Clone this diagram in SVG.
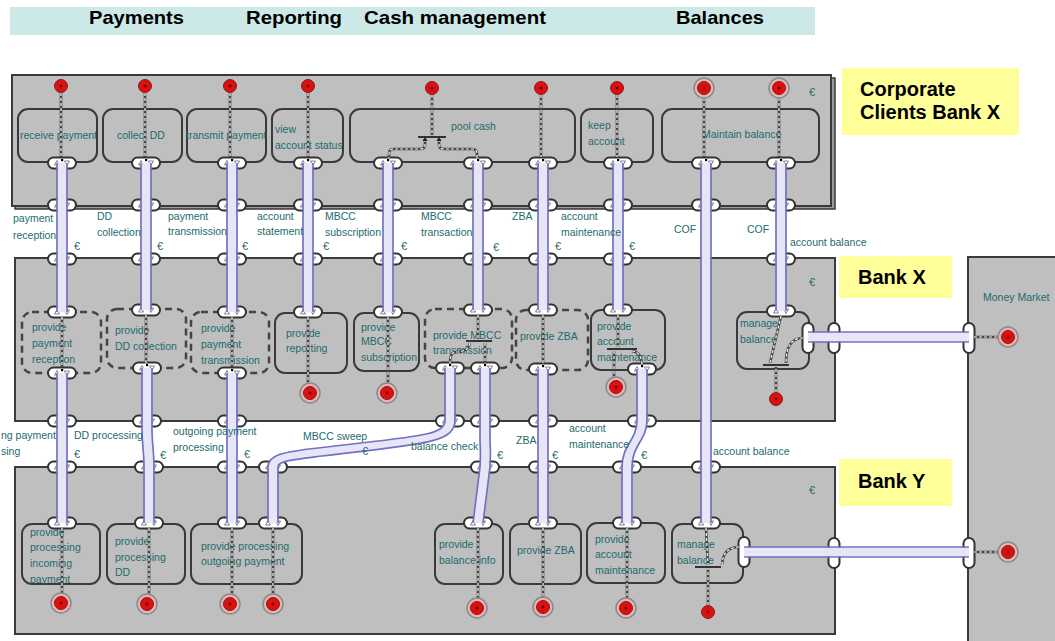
<svg xmlns="http://www.w3.org/2000/svg" width="1055" height="641" viewBox="0 0 1055 641">
<style>
.panel{fill:#bfbfbf;stroke:#3a3a3a;stroke-width:2}
.node{fill:#bfbfbf;stroke:#3a3a3a;stroke-width:2}
.dnode{fill:#bfbfbf;stroke:#444;stroke-width:2.5;stroke-dasharray:7 5}
.t{font-family:"Liberation Sans",Arial,sans-serif;font-size:10.5px;fill:#1d6b6d}
.e{font-family:"Liberation Sans",Arial,sans-serif;font-size:11px;fill:#1d6b6d}
.hd{font-family:"Liberation Sans",Arial,sans-serif;font-weight:bold;font-size:19px;fill:#000}
.bt{font-family:"Liberation Sans",Arial,sans-serif;font-weight:bold;font-size:20px;fill:#000}
.yl{fill:#ffff99}
.band{stroke:#e6e6f6;stroke-width:9;fill:none}
.ln{stroke:#7272c2;stroke-width:1.7;fill:none}
.dk{stroke:#444;stroke-width:2.6;fill:none}
.dw{stroke:#f4f4f4;stroke-width:1.2;stroke-dasharray:3 2;fill:none}
.bar{stroke:#333;stroke-width:2;fill:none}
</style>
<defs>
<g id="p">
<rect x="-14" y="-5.5" width="28" height="11" rx="5.5" fill="#fff" stroke="#333" stroke-width="2"/>
<path d="M-5,-2.5 L-7.5,2 L-2.5,2 Z" fill="#fff" stroke="#666" stroke-width="0.8"/>
<path d="M2.5,-2 L7.5,-2 L5,2.5 Z" fill="#fff" stroke="#666" stroke-width="0.8"/>
<rect x="-1" y="-4" width="2.2" height="2.2" fill="#000"/>
</g>
<g id="vp">
<rect x="-5.5" y="-15" width="11" height="30" rx="5.5" fill="#fff" stroke="#333" stroke-width="2"/>
</g>
<g id="r">
<circle r="6.5" fill="#dd1010" stroke="#8a1a1a" stroke-width="1"/>
<circle r="1.5" fill="#600"/>
</g>
<g id="rh">
<circle r="10" fill="#e6b4b4" stroke="#8a8a8a" stroke-width="1.5"/>
<circle r="6.5" fill="#dd1010" stroke="#8a1a1a" stroke-width="1"/>
<circle r="1.5" fill="#600"/>
</g>
</defs>

<rect width="1055" height="641" fill="#fff"/>

<g id="header">
<rect x="10" y="7" width="805" height="28" fill="#cce8e7"/>
<text class="hd" x="89" y="24" textLength="95" lengthAdjust="spacingAndGlyphs">Payments</text>
<text class="hd" x="246" y="24" textLength="96" lengthAdjust="spacingAndGlyphs">Reporting</text>
<text class="hd" x="364" y="24" textLength="182" lengthAdjust="spacingAndGlyphs">Cash management</text>
<text class="hd" x="676" y="24" textLength="88" lengthAdjust="spacingAndGlyphs">Balances</text>
</g>

<g id="panels">
<rect x="15" y="78" width="820" height="131" fill="#9a9a9a" stroke="#3a3a3a" stroke-width="1.5"/>
<rect class="panel" x="12" y="75" width="819" height="131"/>
<rect class="panel" x="15" y="258" width="820" height="163"/>
<rect class="panel" x="15" y="467" width="820" height="167"/>
<rect class="panel" x="968" y="257" width="92" height="390"/>
<text class="e" x="812" y="96" text-anchor="middle">€</text>
<text class="e" x="812" y="286" text-anchor="middle">€</text>
<text class="e" x="812" y="494" text-anchor="middle">€</text>
<text class="t" x="983" y="301">Money Market</text>
</g>

<g id="labels-yellow">
<rect class="yl" x="842" y="68" width="177" height="67"/>
<text class="bt" x="860" y="96">Corporate</text>
<text class="bt" x="860" y="119">Clients Bank X</text>
<rect class="yl" x="839" y="256" width="113" height="42"/>
<text class="bt" x="858" y="284">Bank X</text>
<rect class="yl" x="839" y="459" width="113" height="47"/>
<text class="bt" x="858" y="488">Bank Y</text>
</g>

<!-- top panel nodes -->
<g id="n-receive-payment"><rect class="node" x="18" y="109" width="79" height="53" rx="10"/><text class="t" x="20" y="139">receive payment</text></g>
<g id="n-collect-dd"><rect class="node" x="103" y="109" width="79" height="53" rx="10"/><text class="t" x="117" y="139">collect DD</text></g>
<g id="n-transmit-payment"><rect class="node" x="187" y="109" width="79" height="53" rx="10"/><text class="t" x="186" y="139">transmit payment</text></g>
<g id="n-view-account-status"><rect class="node" x="272" y="109" width="71" height="53" rx="10"/><text class="t" x="275" y="133">view</text><text class="t" x="275" y="149">account status</text></g>
<g id="n-pool-cash"><rect class="node" x="350" y="109" width="225" height="53" rx="10"/><text class="t" x="451" y="130">pool cash</text></g>
<g id="n-keep-account"><rect class="node" x="581" y="109" width="72" height="53" rx="10"/><text class="t" x="588" y="129">keep</text><text class="t" x="588" y="145">account</text></g>
<g id="n-maintain-balance"><rect class="node" x="662" y="109" width="157" height="53" rx="10"/><text class="t" x="702" y="138">Maintain balance</text></g>

<!-- Bank X nodes -->
<g id="n-provide-payment-reception"><rect class="dnode" x="22" y="312" width="79" height="61" rx="10"/><text class="t" x="32" y="331">provide</text><text class="t" x="32" y="347">payment</text><text class="t" x="32" y="363">reception</text></g>
<g id="n-provide-dd-collection"><rect class="dnode" x="107" y="309" width="79" height="59" rx="10"/><text class="t" x="115" y="334">provide</text><text class="t" x="115" y="350">DD collection</text></g>
<g id="n-provide-payment-transmission"><rect class="dnode" x="191" y="312" width="78" height="61" rx="10"/><text class="t" x="201" y="332">provide</text><text class="t" x="201" y="348">payment</text><text class="t" x="201" y="364">transmission</text></g>
<g id="n-provide-reporting"><rect class="node" x="275" y="313" width="72" height="60" rx="10"/><text class="t" x="286" y="337">provide</text><text class="t" x="286" y="352">reporting</text></g>
<g id="n-provide-mbcc-subscription"><rect class="node" x="354" y="313" width="65" height="58" rx="10"/><text class="t" x="361" y="331">provide</text><text class="t" x="361" y="345">MBCC</text><text class="t" x="361" y="361">subscription</text></g>
<g id="n-provide-mbcc-transmission"><rect class="dnode" x="425" y="309" width="87" height="59" rx="10"/><text class="t" x="433" y="339">provide MBCC</text><text class="t" x="433" y="354">transmission</text></g>
<g id="n-provide-zba-x"><rect class="dnode" x="516" y="310" width="72" height="60" rx="10"/><text class="t" x="520" y="340">provide ZBA</text></g>
<g id="n-provide-account-maintenance-x"><rect class="node" x="591" y="310" width="74" height="60" rx="10"/><text class="t" x="597" y="330">provide</text><text class="t" x="597" y="345">account</text><text class="t" x="597" y="361">maintenance</text></g>
<g id="n-manage-balance-x"><rect class="node" x="737" y="312" width="72" height="57" rx="10"/><text class="t" x="740" y="327">manage</text><text class="t" x="740" y="343">balance</text></g>

<!-- Bank Y nodes -->
<g id="n-provide-processing-incoming"><rect class="node" x="22" y="524" width="78" height="60" rx="10"/><text class="t" x="30" y="536">provide</text><text class="t" x="30" y="551">processing</text><text class="t" x="30" y="567">incoming</text><text class="t" x="30" y="583">payment</text></g>
<g id="n-provide-processing-dd"><rect class="node" x="107" y="524" width="78" height="60" rx="10"/><text class="t" x="115" y="545">provide</text><text class="t" x="115" y="561">processing</text><text class="t" x="115" y="576">DD</text></g>
<g id="n-provide-processing-outgoing"><rect class="node" x="191" y="524" width="111" height="60" rx="10"/><text class="t" x="201" y="550">provide processing</text><text class="t" x="201" y="565">outgoing payment</text></g>
<g id="n-provide-balance-info"><rect class="node" x="435" y="524" width="68" height="60" rx="10"/><text class="t" x="439" y="548">provide</text><text class="t" x="439" y="564">balance info</text></g>
<g id="n-provide-zba-y"><rect class="node" x="510" y="524" width="71" height="60" rx="10"/><text class="t" x="517" y="554">provide ZBA</text></g>
<g id="n-provide-account-maintenance-y"><rect class="node" x="587" y="523" width="78" height="60" rx="10"/><text class="t" x="595" y="543">provide</text><text class="t" x="595" y="558">account</text><text class="t" x="595" y="574">maintenance</text></g>
<g id="n-manage-balance-y"><rect class="node" x="672" y="524" width="71" height="59" rx="10"/><text class="t" x="677" y="548">manage</text><text class="t" x="677" y="564">balance</text></g>

<g id="ports">
<use href="#p" x="62" y="163"/><use href="#p" x="146" y="163"/><use href="#p" x="232" y="163"/><use href="#p" x="308" y="163"/><use href="#p" x="388" y="163"/><use href="#p" x="478" y="163"/><use href="#p" x="543" y="163"/><use href="#p" x="618" y="163"/><use href="#p" x="706" y="163"/><use href="#p" x="781" y="163"/>
<use href="#p" x="62" y="205"/><use href="#p" x="146" y="205"/><use href="#p" x="232" y="205"/><use href="#p" x="308" y="205"/><use href="#p" x="388" y="205"/><use href="#p" x="478" y="205"/><use href="#p" x="543" y="205"/><use href="#p" x="618" y="205"/><use href="#p" x="706" y="205"/><use href="#p" x="781" y="205"/>
<use href="#p" x="62" y="259"/><use href="#p" x="146" y="259"/><use href="#p" x="232" y="259"/><use href="#p" x="308" y="259"/><use href="#p" x="388" y="259"/><use href="#p" x="478" y="259"/><use href="#p" x="543" y="259"/><use href="#p" x="618" y="259"/><use href="#p" x="781" y="259"/>
<use href="#p" x="62" y="312"/><use href="#p" x="146" y="310"/><use href="#p" x="232" y="312"/><use href="#p" x="308" y="312"/><use href="#p" x="388" y="312"/><use href="#p" x="478" y="310"/><use href="#p" x="543" y="310"/><use href="#p" x="618" y="310"/><use href="#p" x="781" y="311"/>
<use href="#p" x="62" y="373"/><use href="#p" x="147" y="368"/><use href="#p" x="232" y="373"/><use href="#p" x="450" y="368"/><use href="#p" x="485" y="368"/><use href="#p" x="543" y="369"/><use href="#p" x="642" y="369"/>
<use href="#p" x="62" y="421"/><use href="#p" x="147" y="421"/><use href="#p" x="232" y="421"/><use href="#p" x="450" y="421"/><use href="#p" x="485" y="421"/><use href="#p" x="543" y="421"/><use href="#p" x="642" y="421"/>
<use href="#p" x="62" y="467"/><use href="#p" x="149" y="467"/><use href="#p" x="232" y="467"/><use href="#p" x="273" y="467"/><use href="#p" x="485" y="467"/><use href="#p" x="543" y="467"/><use href="#p" x="627" y="467"/><use href="#p" x="706" y="467"/>
<use href="#p" x="62" y="523"/><use href="#p" x="149" y="523"/><use href="#p" x="232" y="523"/><use href="#p" x="273" y="523"/><use href="#p" x="478" y="523"/><use href="#p" x="543" y="523"/><use href="#p" x="627" y="523"/><use href="#p" x="706" y="523"/>
<use href="#vp" x="808" y="338"/><use href="#vp" x="834" y="338"/><use href="#vp" x="969" y="338"/>
<use href="#vp" x="744" y="552"/><use href="#vp" x="834" y="553"/><use href="#vp" x="969" y="553"/>
</g>

<g id="connectors">
<!-- bands -->
<path class="band" d="M62,163V312 M62,373V523 M146,163V310 M147,368V430 C147,445 149,450 149,467V523 M232,163V312 M232,373V523 M308,163V312 M388,163V312 M478,163V310 M543,163V310 M543,369V523 M618,163V310 M706,163V523 M781,163V311"/>
<path class="band" d="M450,368V420 C450,440 421,440 320,452 C286,456 273,458 273,467V523"/>
<path class="band" d="M485,368V467 L478,523"/>
<path class="band" d="M642,369V420 C642,440 627,445 627,467V523"/>
<path class="band" d="M808,337H969 M744,552H969"/>
<!-- lines -->
<path class="ln" d="M57,163V312 M67,163V312 M57,373V523 M67,373V523"/>
<path class="ln" d="M141,163V310 M151,163V310 M142,368V430 C142,445 144,450 144,467V523 M152,368V430 C152,445 154,450 154,467V523"/>
<path class="ln" d="M227,163V312 M237,163V312 M227,373V523 M237,373V523"/>
<path class="ln" d="M303,163V312 M313,163V312 M383,163V312 M393,163V312"/>
<path class="ln" d="M473,163V310 M483,163V310"/>
<path class="ln" stroke="#5a5aa8" d="M445,368V420 C445,436 418,436 318,448 C282,452 268,455 268,467V523 M455,368V420 C455,443 424,444 322,456 C290,460 278,461 278,467V523"/>
<path class="ln" stroke="#5a5aa8" d="M480,368V440 C480,446 481,450 480,467 L473,523 M490,368V440 C490,446 491,450 490,467 L483,523"/>
<path class="ln" d="M538,163V310 M548,163V310 M538,369V523 M548,369V523"/>
<path class="ln" d="M613,163V310 M623,163V310"/>
<path class="ln" stroke="#5a5aa8" d="M637,369V420 C637,440 622,445 622,467V523 M647,369V420 C647,440 632,445 632,467V523"/>
<path class="ln" d="M701,163V523 M711,163V523 M776,163V311 M786,163V311"/>
<path class="ln" d="M808,332H969 M808,342H969 M744,547H969 M744,557H969"/>
<!-- dashed dependency lines -->
<path class="dk" d="M61,93V157 M145,93V157 M230,93V157 M308,93V157 M432,95V135 M541,95V157 M617,95V157 M704,98V157 M779,98V157"/>
<path class="dk" d="M425,139V145 Q425,149 420,149 H394 Q389,149 389,154V158 M439,139V145 Q439,149 444,149 H472 Q477,149 477,154V158"/>
<path class="dk" d="M62,317V367 M146,315V363 M232,317V367 M308,317V383 M388,317V383 M543,315V364"/>
<path class="dk" d="M478,315V339 M470,343 Q468,352 456,352 Q450,352 450,363 M485,343V363"/>
<path class="dk" d="M618,315V347 M614,351V380 M632,351 Q641,352 642,364"/>
<path class="dk" d="M781,316 L770,363 M803,338 Q786,338 786,363 M776,392V367 M974,337H998"/>
<path class="dk" d="M62,528V593 M149,528V594 M232,528V594 M273,528V594 M478,528V598 M543,528V597 M627,528V598"/>
<path class="dk" d="M706,528 L708,565 M739,547 Q723,547 722,565 M708,605V569 M974,552H998"/>
<path class="dw" d="M61,93V157 M145,93V157 M230,93V157 M308,93V157 M432,95V135 M541,95V157 M617,95V157 M704,98V157 M779,98V157"/>
<path class="dw" d="M425,139V145 Q425,149 420,149 H394 Q389,149 389,154V158 M439,139V145 Q439,149 444,149 H472 Q477,149 477,154V158"/>
<path class="dw" d="M62,317V367 M146,315V363 M232,317V367 M308,317V383 M388,317V383 M543,315V364"/>
<path class="dw" d="M478,315V339 M470,343 Q468,352 456,352 Q450,352 450,363 M485,343V363"/>
<path class="dw" d="M618,315V347 M614,351V380 M632,351 Q641,352 642,364"/>
<path class="dw" d="M781,316 L770,363 M803,338 Q786,338 786,363 M776,392V367 M974,337H998"/>
<path class="dw" d="M62,528V593 M149,528V594 M232,528V594 M273,528V594 M478,528V598 M543,528V597 M627,528V598"/>
<path class="dw" d="M706,528 L708,565 M739,547 Q723,547 722,565 M708,605V569 M974,552H998"/>
<!-- join bars -->
<path class="bar" d="M418,137H446 M466,341H492 M607,349H637 M763,365H789 M695,567H721"/>
<path d="M425,137 l-2.5,4 h5 Z M439,137 l-2.5,4 h5 Z" fill="#222"/>
</g>

<g id="events">
<use href="#r" x="61" y="86"/><use href="#r" x="145" y="86"/><use href="#r" x="230" y="86"/><use href="#r" x="308" y="86"/><use href="#r" x="432" y="88"/><use href="#r" x="541" y="88"/><use href="#r" x="617" y="88"/>
<use href="#rh" x="704" y="88"/><use href="#rh" x="779" y="88"/>
<use href="#rh" x="310" y="393"/><use href="#rh" x="387" y="393"/><use href="#rh" x="616" y="387"/><use href="#r" x="776" y="399"/><use href="#rh" x="1008" y="337"/>
<use href="#rh" x="61" y="603"/><use href="#rh" x="147" y="604"/><use href="#rh" x="230" y="604"/><use href="#rh" x="273" y="604"/><use href="#rh" x="477" y="608"/><use href="#rh" x="543" y="607"/><use href="#rh" x="626" y="608"/><use href="#r" x="708" y="612"/><use href="#rh" x="1008" y="552"/>
</g>

<g id="flow-labels">
<text class="t" x="13" y="222">payment</text><text class="t" x="13" y="239">reception</text>
<text class="t" x="97" y="220">DD</text><text class="t" x="97" y="236">collection</text>
<text class="t" x="168" y="220">payment</text><text class="t" x="168" y="235">transmission</text>
<text class="t" x="257" y="220">account</text><text class="t" x="257" y="235">statement</text>
<text class="t" x="325" y="220">MBCC</text><text class="t" x="325" y="236">subscription</text>
<text class="t" x="421" y="220">MBCC</text><text class="t" x="421" y="236">transaction</text>
<text class="t" x="512" y="220">ZBA</text>
<text class="t" x="561" y="220">account</text><text class="t" x="561" y="236">maintenance</text>
<text class="t" x="674" y="233">COF</text>
<text class="t" x="747" y="233">COF</text>
<text class="t" x="790" y="246">account balance</text>
<text class="e" x="74" y="250">€</text><text class="e" x="157" y="250">€</text><text class="e" x="242" y="250">€</text><text class="e" x="323" y="250">€</text><text class="e" x="401" y="250">€</text><text class="e" x="493" y="251">€</text><text class="e" x="555" y="250">€</text><text class="e" x="629" y="250">€</text>
<text class="t" x="1" y="439">ng payment</text><text class="t" x="1" y="455">sing</text>
<text class="t" x="74" y="439">DD processing</text>
<text class="t" x="173" y="435">outgoing payment</text><text class="t" x="173" y="451">processing</text>
<text class="t" x="303" y="440">MBCC sweep</text>
<text class="t" x="411" y="450">balance check</text>
<text class="t" x="516" y="444">ZBA</text>
<text class="t" x="569" y="432">account</text><text class="t" x="569" y="448">maintenance</text>
<text class="t" x="713" y="455">account balance</text>
<text class="e" x="74" y="458">€</text><text class="e" x="160" y="459">€</text><text class="e" x="244" y="458">€</text><text class="e" x="362" y="455">€</text><text class="e" x="497" y="459">€</text><text class="e" x="552" y="459">€</text><text class="e" x="641" y="459">€</text>
</g>
</svg>
